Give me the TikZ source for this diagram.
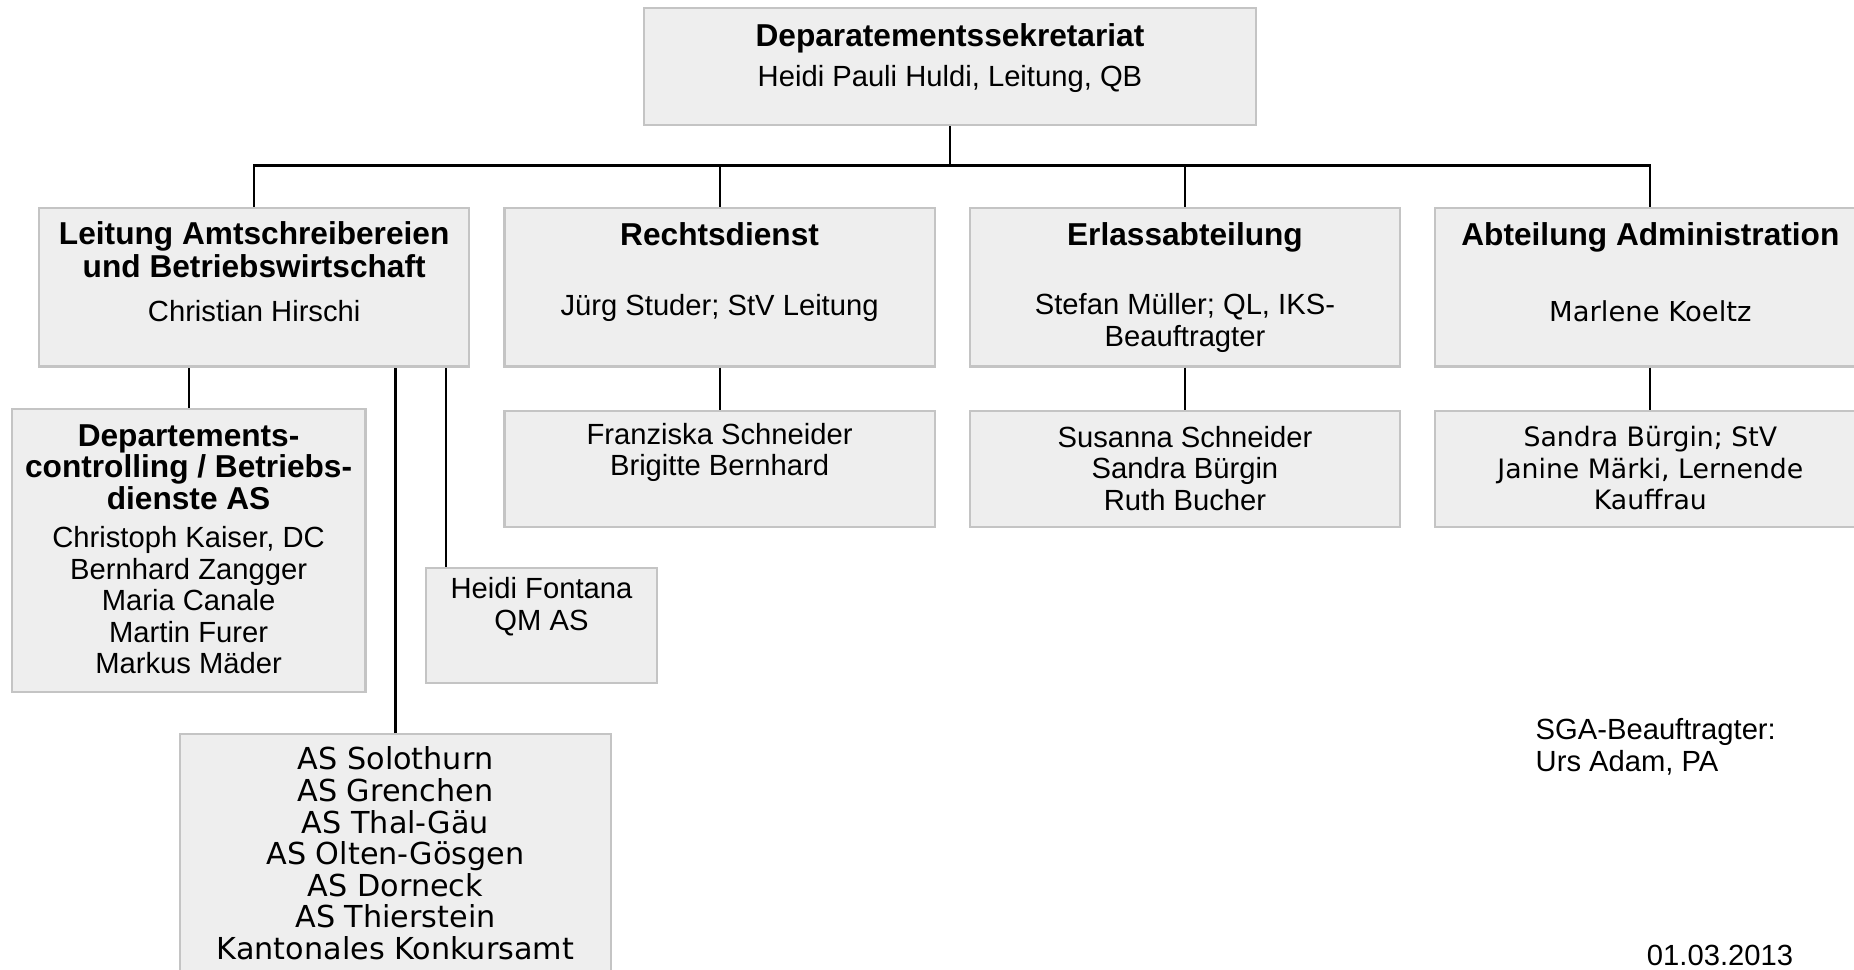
\documentclass[tikz,border=0pt]{standalone}
\usepackage{fontspec}
\setmainfont{Liberation Sans}
\newfontfamily\widefont{DejaVu Sans}
\usetikzlibrary{positioning}
\definecolor{boxFill}{HTML}{EEEEEE}
\definecolor{boxLine}{HTML}{C4C4C4}

\begin{document}
\begin{tikzpicture}[x=0.01cm, y=-0.01cm, node distance=4.26mm and 3.3mm]
    \tikzset{box/.style={draw=boxLine,fill=boxFill,line width=0.6pt,inner sep=0pt}, unit/.style={box,minimum width=4.3cm,minimum height=1.584cm}, sub/.style={box,minimum width=4.3cm,minimum height=1.16cm}, ttl/.style={align=center,font=\bfseries\fontsize{9}{9.4}\selectfont}, oneline/.style={text height=6.6pt,text depth=1.9pt}, nm/.style={align=center,font=\fontsize{8.3}{8.96}\selectfont}, widetxt/.style={align=center,font=\widefont\fontsize{7.8}{8.96}\selectfont}, link/.style={draw=black,line width=0.6pt}}
    \clip (0,0) rectangle (1854,970);
    \fill[white] (0,0) rectangle (1854,970);
    % boxes
    \node[box,minimum width=6.12cm,minimum height=1.17cm] (sek) at (950,66.8) {};
    \node[unit] (amt) at (254.2,287.3) {};
    \node[unit,right=of amt] (recht) {};
    \node[unit,right=of recht] (erlass) {};
    \node[unit,right=of erlass] (admin) {};
    \node[sub,below=of recht] (rechtSub) {};
    \node[sub,below=of erlass] (erlassSub) {};
    \node[sub,below=of admin] (adminSub) {};
    \node[box,minimum width=3.536cm,minimum height=2.826cm] (dc) at (188.6,550.4) {};
    \node[box,minimum width=2.317cm,minimum height=1.158cm] (qm) at (541.5,625.5) {};
    \node[box,minimum width=4.316cm,minimum height=2.66cm] (as) at (395.5,867.3) {};
    % lines
    \coordinate (bus) at (949.5,165.5);
    \draw[link] (sek.south) -- (sek.south |- bus);
    \draw[link] (amt.north) -- (amt.north |- bus) -- (admin.north |- bus) -- (admin.north);
    \foreach \p in {recht,erlass} \draw[link] (\p.north) -- (\p.north |- bus);
    \foreach \p/\q in {recht/rechtSub,erlass/erlassSub,admin/adminSub} \draw[link] (\p.south) -- (\q.north);
    \draw[link] (dc.north) -- (dc.north |- amt.south);
    \draw[link] (as.north) -- (as.north |- amt.south);
    \coordinate (qmIn) at ([xshift=2.13mm]qm.north west);
    \draw[link] (qmIn) -- (qmIn |- amt.south);
    % texts
    \node[ttl,oneline] (sekT) at ([yshift=-3.1mm]sek.north) {Deparatementssekretariat};
    \node[nm] (sekN) at ([yshift=-7.2mm]sek.north) {Heidi Pauli Huldi, Leitung, QB};
    \node[ttl] (amtT) at ([yshift=-4.3mm]amt.north) {Leitung Amtschreibereien\\und Betriebswirtschaft};
    \node[nm] (amtN) at ([yshift=-10.4mm]amt.north) {Christian Hirschi};
    \node[ttl,oneline] (rechtT) at ([yshift=-3.0mm]recht.north) {Rechtsdienst};
    \node[nm] (rechtN) at ([yshift=-10.05mm]recht.north) {Jürg Studer; StV Leitung};
    \node[ttl,oneline] (erlassT) at ([yshift=-3.0mm]erlass.north) {Erlassabteilung};
    \node[nm] (erlassN) at ([yshift=-11.6mm]erlass.north) {Stefan Müller; QL, IKS-\\Beauftragter};
    \node[ttl,oneline] (adminT) at ([yshift=-3.0mm]admin.north) {Abteilung Administration};
    \node[widetxt] (adminN) at ([yshift=-10.4mm]admin.north) {Marlene Koeltz};
    \node[nm] (rechtSubT) at ([yshift=-4.2mm]rechtSub.north) {Franziska Schneider\\Brigitte Bernhard};
    \node[nm] (erlassSubT) at ([yshift=-5.8mm]erlassSub.north) {Susanna Schneider\\Sandra Bürgin\\Ruth Bucher};
    \node[widetxt,font=\widefont\fontsize{7.6}{8.96}\selectfont] (adminSubT) at ([yshift=-5.8mm]adminSub.north) {Sandra Bürgin; StV\\Janine Märki, Lernende\\Kauffrau};
    \node[ttl,font=\bfseries\fontsize{9}{8.96}\selectfont] (dcT) at ([yshift=-5.9mm]dc.north) {Departements-\\controlling / Betriebs-\\dienste AS};
    \node[nm] (dcN) at ([yshift=-19.24mm]dc.north) {Christoph Kaiser, DC\\Bernhard Zangger\\Maria Canale\\Martin Furer\\Markus Mäder};
    \node[nm] (qmT) at ([yshift=-4.0mm]qm.north) {Heidi Fontana\\QM AS};
    \node[widetxt,font=\widefont\fontsize{8.6}{8.96}\selectfont] (asT) at ([yshift=-12mm]as.north) {AS Solothurn\\AS Grenchen\\AS Thal-Gäu\\AS Olten-Gösgen\\AS Dorneck\\AS Thierstein\\Kantonales Konkursamt};
    \node[nm,align=left,anchor=west,inner sep=0pt] (sga) at (1535,747) {SGA-Beauftragter:\\Urs Adam, PA};
    \node[nm] (datum) at (1720,955) {01.03.2013};
  \end{tikzpicture}
\end{document}
